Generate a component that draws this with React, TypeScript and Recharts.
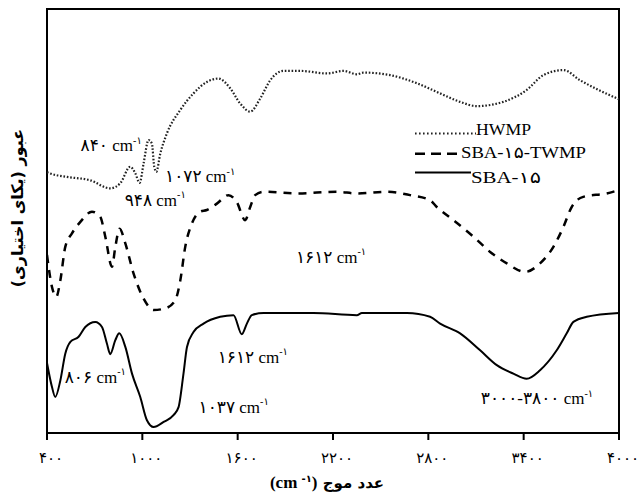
import { LineChart, Line, XAxis, YAxis, ReferenceArea, ReferenceDot } from "recharts";

// wavenumber (cm-1), transmittance (arbitrary units 0-100)
const hwmp = [
  [400, 61.5], [421, 61.2], [526, 60.4], [672, 59.6], [798, 57.7], [861, 58.9],
  [924, 62.8], [955, 61.3], [983, 59.0], [1008, 63.6], [1039, 69.1], [1060, 68.3],
  [1075, 62.8], [1088, 61.6], [1113, 65.9], [1155, 70.7], [1239, 76.2], [1322, 80.1],
  [1406, 82.8], [1479, 83.6], [1553, 81.3], [1616, 77.7], [1679, 75.8], [1742, 78.9],
  [1805, 83.2], [1888, 85.4], [1994, 85.4], [2161, 84.8], [2266, 85.4], [2350, 84.6],
  [2392, 85.0], [2560, 84.4], [2727, 82.5], [2874, 80.1], [3000, 78.1], [3105, 77.1],
  [3272, 78.1], [3419, 80.9], [3524, 84.4], [3650, 85.6], [3755, 83.2], [4000, 78.7],
];

const sbaTwmp = [
  [400, 42.0], [431, 34.5], [458, 32.1], [484, 36.0], [515, 43.9], [557, 47.1],
  [610, 49.8], [683, 52.2], [735, 51.0], [767, 46.3], [809, 39.2], [830, 43.9],
  [857, 48.2], [893, 44.7], [945, 37.6], [1008, 31.7], [1071, 29.0], [1144, 29.4],
  [1207, 31.3], [1239, 36.0], [1270, 43.9], [1312, 49.4], [1364, 52.2], [1406, 52.6],
  [1469, 54.1], [1542, 56.1], [1595, 54.4], [1647, 50.2], [1679, 53.3], [1710, 56.1],
  [1763, 56.9], [1973, 56.5], [2224, 56.9], [2350, 56.5], [2539, 56.9], [2685, 56.1],
  [2811, 54.9], [2853, 53.3], [2958, 50.2], [3084, 46.3], [3189, 42.7], [3294, 40.0],
  [3409, 38.0], [3503, 40.0], [3587, 43.9], [3650, 48.6], [3702, 53.3], [3775, 55.7],
  [3922, 56.5], [4000, 57.3],
];

const sba15 = [
  [400, 16.5], [431, 10.9], [452, 8.5], [484, 12.4], [515, 18.7], [547, 21.5],
  [599, 22.7], [641, 25.0], [704, 26.2], [746, 25.0], [777, 21.1], [798, 18.6],
  [830, 21.9], [855, 23.5], [893, 20.3], [935, 14.0], [987, 8.5], [1029, 3.0],
  [1071, 1.4], [1134, 2.6], [1196, 4.2], [1228, 6.1], [1259, 14.0], [1281, 20.3],
  [1322, 23.8], [1385, 25.8], [1490, 27.4], [1574, 27.8], [1626, 23.3], [1658, 25.8],
  [1689, 27.8], [1763, 28.3], [2077, 28.3], [2350, 27.8], [2382, 28.3], [2665, 28.3],
  [2811, 27.4], [2874, 25.8], [3000, 23.5], [3126, 19.5], [3231, 16.0], [3335, 14.0],
  [3419, 12.8], [3503, 14.8], [3608, 19.5], [3671, 23.5], [3713, 26.2], [3797, 27.4],
  [4000, 28.3],
];

const xTicks = [400, 1000, 1600, 2200, 2800, 3400, 4000];

// peak labels: [wavenumber, transmittance, text]
const annotations: [number, number, string][] = [
  [804, 67.7, "840"],
  [1364, 60.4, "1072"],
  [1081, 54.9, "948"],
  [2188, 41.5, "1612"],
  [1695, 17.9, "1612"],
  [704, 13.2, "806"],
  [1575, 6.1, "1037"],
  [3484, 8.1, "3000-3800"],
];

const fa = (s: string | number) =>
  String(s).replace(/\d/g, (d) => "۰۱۲۳۴۵۶۷۸۹"[Number(d)]);

const toRows = (arr: number[][]) => arr.map(([wn, t]) => ({ wn, t }));

const serif = "'Liberation Serif', 'Times New Roman', 'DejaVu Sans', serif";
const arabic = "'DejaVu Sans', sans-serif";

const AnnotationLabel = ({ viewBox, text }: any) => {
  const cx = viewBox.x + viewBox.width / 2;
  const cy = viewBox.y + viewBox.height / 2;
  return (
    <text x={cx} y={cy} textAnchor="middle" dominantBaseline="central" fontFamily={serif} fontSize={17} fill="#000">
      {fa(text)} cm
      <tspan fontSize={10} dy={-6}>-۱</tspan>
    </text>
  );
};

const TickLabel = ({ x, y, payload }: any) => (
  <text x={x + 4} y={y} dy="0.71em" textAnchor="middle" fontFamily={arabic} fontSize={15} fill="#000" letterSpacing={1.5}>
    {fa(payload.value)}
  </text>
);

export default function App() {
  return (
    <div style={{ position: "absolute", left: 0, top: 0, width: 638, height: 497, background: "#fff" }}>
      <LineChart width={638} height={497} margin={{ top: 9, right: 19, left: 47, bottom: 34 }}>
        <XAxis
          type="number"
          dataKey="wn"
          domain={[400, 4000]}
          ticks={xTicks}
          allowDataOverflow
          height={30}
          axisLine={{ stroke: "#000", strokeWidth: 2 }}
          tickLine={{ stroke: "#000", strokeWidth: 2 }}
          tickSize={7}
          tickMargin={12}
          tick={<TickLabel />}
        />
        <YAxis type="number" dataKey="t" domain={[0, 100]} hide allowDataOverflow />
        <ReferenceArea x1={400} x2={4000} y1={0} y2={100} fill="none" stroke="#000" strokeWidth={2} ifOverflow="visible" />
        <Line data={toRows(hwmp)} dataKey="t" type="monotone" stroke="#222" strokeWidth={2.2} strokeDasharray="1.6 1.8" dot={false} isAnimationActive={false} />
        <Line data={toRows(sbaTwmp)} dataKey="t" type="monotone" stroke="#000" strokeWidth={2.5} strokeDasharray="8 7" dot={false} isAnimationActive={false} />
        <Line data={toRows(sba15)} dataKey="t" type="monotone" stroke="#000" strokeWidth={2} dot={false} isAnimationActive={false} />
        {annotations.map(([wn, t, text], i) => (
          <ReferenceDot
            key={i}
            x={wn}
            y={t}
            r={1}
            fill="none"
            stroke="none"
            ifOverflow="visible"
            label={<AnnotationLabel text={text} />}
          />
        ))}
      </LineChart>
      <svg width={638} height={497} style={{ position: "absolute", left: 0, top: 0, pointerEvents: "none" }}>
        {/* legend */}
        <line x1={415} x2={476} y1={133.5} y2={133.5} stroke="#222" strokeWidth={2} strokeDasharray="1.6 2.4" />
        <text x={476} y={134.5} fontFamily={serif} fontSize={16} textLength={55} lengthAdjust="spacingAndGlyphs">HWMP</text>
        <line x1={415} x2={461} y1={153.7} y2={153.7} stroke="#000" strokeWidth={2.5} strokeDasharray="10 6" />
        <text x={461} y={157.5} fontFamily={serif} fontSize={16} textLength={125} lengthAdjust="spacingAndGlyphs">
          {"SBA-" + fa(15) + "-TWMP"}
        </text>
        <line x1={415} x2={471} y1={172.5} y2={172.5} stroke="#000" strokeWidth={2} />
        <text x={471} y={182.5} fontFamily={serif} fontSize={16} textLength={70} lengthAdjust="spacingAndGlyphs">
          {"SBA-" + fa(15)}
        </text>
        {/* axis titles */}
        <text x={327} y={488} textAnchor="middle" fontFamily={arabic} fontWeight="bold" fontSize={15} direction="ltr">
          <tspan fontFamily={serif} fontSize={17}>(cm </tspan>
          <tspan fontSize={10} dy={-6}>-۱</tspan>
          <tspan fontFamily={serif} fontSize={17} dy={6}>)</tspan>
          <tspan> عدد موج</tspan>
        </text>
        <text x={0} y={0} transform="translate(17,208) rotate(-90)" textAnchor="middle" dominantBaseline="central" fontFamily={arabic} fontWeight="bold" fontSize={16} direction="rtl">
          عبور (یکای اختیاری)
        </text>
      </svg>
    </div>
  );
}
